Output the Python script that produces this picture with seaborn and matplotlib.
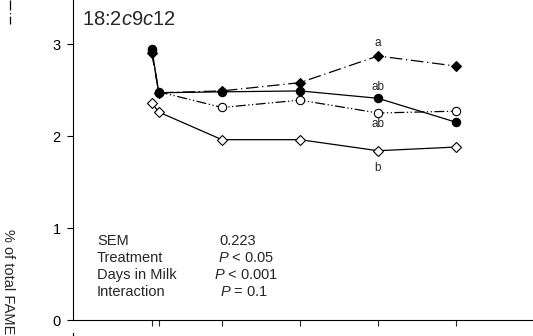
import matplotlib
matplotlib.use('Agg')
import matplotlib.pyplot as plt
import seaborn as sns
from matplotlib.lines import Line2D

# sampling points (axis units, tick labels are outside the crop)
days = [0.1, 0.19, 1, 2, 3, 4]

# 18:2 c9c12, % of total FAME
filled_diamond = [2.90, 2.47, 2.49, 2.58, 2.87, 2.76]
filled_circle = [2.95, 2.47, 2.48, 2.49, 2.41, 2.15]
open_circle = [2.92, 2.48, 2.31, 2.39, 2.25, 2.27]
open_diamond = [2.36, 2.26, 1.96, 1.96, 1.84, 1.88]

letters = ['a', 'ab', 'ab', 'b']
letter_y = [3.01, 2.53, 2.13, 1.65]

stat_names = ['SEM', 'Treatment', 'Days in Milk', 'Interaction']
stat_values = ['0.223', r'$\mathit{P}$ < 0.05', r'$\mathit{P}$ < 0.001', r'$\mathit{P}$ = 0.1']

sns.set_style('ticks')
plt.rcParams['font.family'] = ['Liberation Sans', 'DejaVu Sans']
plt.rcParams['mathtext.fontset'] = 'custom'
plt.rcParams['mathtext.rm'] = 'Liberation Sans'
plt.rcParams['mathtext.it'] = 'Liberation Sans:italic'

fig = plt.figure(figsize=(5.33, 3.36), dpi=100)
W, H = 533, 336
ax = fig.add_axes([73 / W, 16 / H, 6.41 * 78 / W, 3.6 * 92 / H])

series = [
    (open_diamond, 'D', 'white', '-'),
    (open_circle, 'o', 'white', (0, (8, 2, 1, 2, 1, 2))),
    (filled_circle, 'o', 'black', '-'),
    (filled_diamond, 'D', 'black', (0, (10, 3, 1, 3))),
]
for vals, mk, fc, ls in series:
    sns.lineplot(x=days, y=vals, ax=ax, color='black', linewidth=0.9,
                 linestyle=ls, marker=mk, markersize=5 if mk == 'D' else 6,
                 markerfacecolor=fc, markeredgecolor='black', markeredgewidth=0.8)

for lab, yv in zip(letters, letter_y):
    ax.text(3, yv, lab, ha='center', va='center', fontsize=8.5)

ax.set_xlim(-0.91, 5.5)
ax.set_ylim(0, 3.6)
ax.set_xticks(days)
ax.set_xticklabels([])
ax.set_yticks([0, 1, 2, 3])
ax.tick_params(axis='y', labelsize=10.5, length=4, width=0.8, pad=5, colors='black')
ax.tick_params(axis='x', length=4, width=0.8)
for s in ['top', 'right']:
    ax.spines[s].set_visible(False)
for s in ['left', 'bottom']:
    ax.spines[s].set_linewidth(0.8)
    ax.spines[s].set_color('black')

fig.text(82 / W, 1 - 19.5 / H, r'18:2$\mathit{c}$9$\mathit{c}$12', fontsize=14.5,
         ha='left', va='center')

name_y = [241, 258, 275, 292]
val_x = [219, 218, 214, 220]
for nm, vl, yy, vx in zip(stat_names, stat_values, name_y, val_x):
    fig.text(97 / W, 1 - yy / H, nm, fontsize=10.5, ha='left', va='center')
    fig.text(vx / W, 1 - yy / H, vl, fontsize=10.5, ha='left', va='center')

fig.text(14.5 / W, 1 - 229 / H, '% of total FAME', fontsize=10.5, rotation=-90,
         ha='right', va='top')

# fragments of neighbouring panels
fig.add_artist(Line2D([9.5 / W, 9.5 / W], [1, 1 - 24 / H], color='black',
                      linewidth=0.9, linestyle=(0, (8, 2, 1, 2))))
fig.add_artist(Line2D([73 / W, 73 / W], [0, 3 / H], color='black', linewidth=0.9))

fig.savefig('out.png', dpi=100)
